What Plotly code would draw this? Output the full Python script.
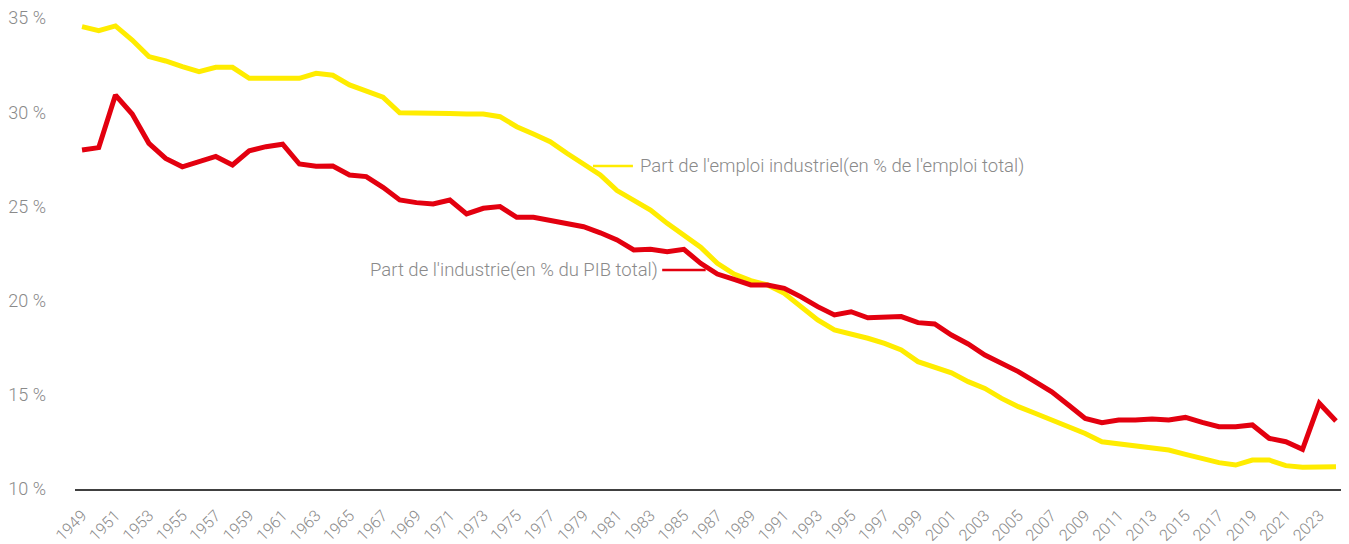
import plotly.graph_objects as go

years = list(range(1949, 2025))

emploi_industriel = [
    34.54, 34.33, 34.58, 33.83, 32.95, 32.72, 32.42, 32.15, 32.38, 32.38,
    31.80, 31.80, 31.75, 31.80, 32.06, 31.96, 31.45, 31.15, 30.80, 29.97,
    29.97, 29.93, 29.93, 29.90, 29.90, 29.76, 29.23, 28.84, 28.43, 27.82,
    27.25, 26.67, 25.84, 25.31, 24.81, 24.10, 23.43, 22.83, 21.98, 21.41,
    21.06, 20.83, 20.39, 19.68, 18.97, 18.44, 18.23, 18.00, 17.73, 17.38,
    16.76, 16.46, 16.17, 15.70, 15.34, 14.81, 14.37, 14.02, 13.66, 13.34,
    12.95, 12.51, 12.39, 12.28, 12.16, 12.07, 11.84, 11.63, 11.40, 11.27,
    11.54, 11.54, 11.24, 11.15, 11.15, 11.18,
]

industrie_pib = [
    27.99, 28.12, 30.91, 29.90, 28.35, 27.55, 27.10, 27.35, 27.65, 27.20,
    27.95, 28.17, 28.30, 27.25, 27.13, 27.14, 26.67, 26.58, 26.01, 25.34,
    25.20, 25.13, 25.34, 24.60, 24.90, 24.99, 24.42, 24.42, 24.24, 24.10,
    23.92, 23.60, 23.22, 22.69, 22.72, 22.60, 22.72, 21.98, 21.41, 21.13,
    20.83, 20.83, 20.65, 20.20, 19.68, 19.24, 19.41, 19.09, 19.15, 19.15,
    18.83, 18.76, 18.17, 17.70, 17.11, 16.67, 16.23, 15.70, 15.16, 14.46,
    13.75, 13.52, 13.66, 13.66, 13.72, 13.66, 13.80, 13.54, 13.31, 13.31,
    13.40, 12.69, 12.51, 12.11, 14.55, 13.61,
]

y_ticks = [10, 15, 20, 25, 30, 35]
y_tick_labels = ["10 %", "15 %", "20 %", "25 %", "30 %", "35 %"]
x_ticks = list(range(1949, 2025, 2))

label_emploi = "Part de l'emploi industriel(en % de l'emploi total)"
label_pib = "Part de l'industrie(en % du PIB total)"

YELLOW = "#FFEC00"
RED = "#E3000F"
GREY = "#8a8a8a"
FONT = "Roboto"

fig = go.Figure()
fig.add_trace(go.Scatter(x=years, y=emploi_industriel, mode="lines",
                         line=dict(color=YELLOW, width=5), name=label_emploi,
                         hoverinfo="x+y"))
fig.add_trace(go.Scatter(x=years, y=industrie_pib, mode="lines",
                         line=dict(color=RED, width=5), name=label_pib,
                         hoverinfo="x+y"))

# leader lines
fig.add_shape(type="line", x0=1979.56, x1=1981.95, y0=27.14, y1=27.14,
              line=dict(color=YELLOW, width=2.5), xref="x", yref="y")
fig.add_shape(type="line", x0=1983.7, x1=1986.3, y0=21.62, y1=21.62,
              line=dict(color=RED, width=2.5), xref="x", yref="y")

fig.add_annotation(x=1982.25, y=27.14, text=label_emploi, showarrow=False,
                   xanchor="left", yanchor="middle",
                   font=dict(family=FONT, size=18.5, color=GREY, weight=300))
fig.add_annotation(x=1983.57, y=21.62, text=label_pib, showarrow=False,
                   xanchor="right", yanchor="middle",
                   font=dict(family=FONT, size=18.5, color=GREY, weight=300))

# the page body adds an 8px offset, so the figure is sized to compensate
fig.update_layout(
    width=1341, height=536,
    margin=dict(l=67, r=6, t=10, b=55),
    paper_bgcolor="white", plot_bgcolor="white",
    showlegend=False,
    font=dict(family=FONT, color=GREY),
)
fig.update_xaxes(
    range=[1948.58, 2024.42], automargin=False,
    tickmode="array", tickvals=x_ticks, ticktext=[str(v) for v in x_ticks],
    tickangle=-45, tickfont=dict(family=FONT, size=16, color=GREY, weight=300),
    showgrid=False, zeroline=False,
    showline=True, linecolor="#404040", linewidth=2, ticks="",
    ticklabelstandoff=9, ticklabeloverflow="allow",
)
fig.update_yaxes(
    range=[10, 35], automargin=False,
    tickmode="array", tickvals=y_ticks, ticktext=y_tick_labels,
    tickfont=dict(family=FONT, size=18, color=GREY, weight=300),
    showgrid=False, zeroline=False, showline=False, ticks="",
    ticklabelstandoff=28, ticklabeloverflow="allow",
)

fig.write_html("out.html")
